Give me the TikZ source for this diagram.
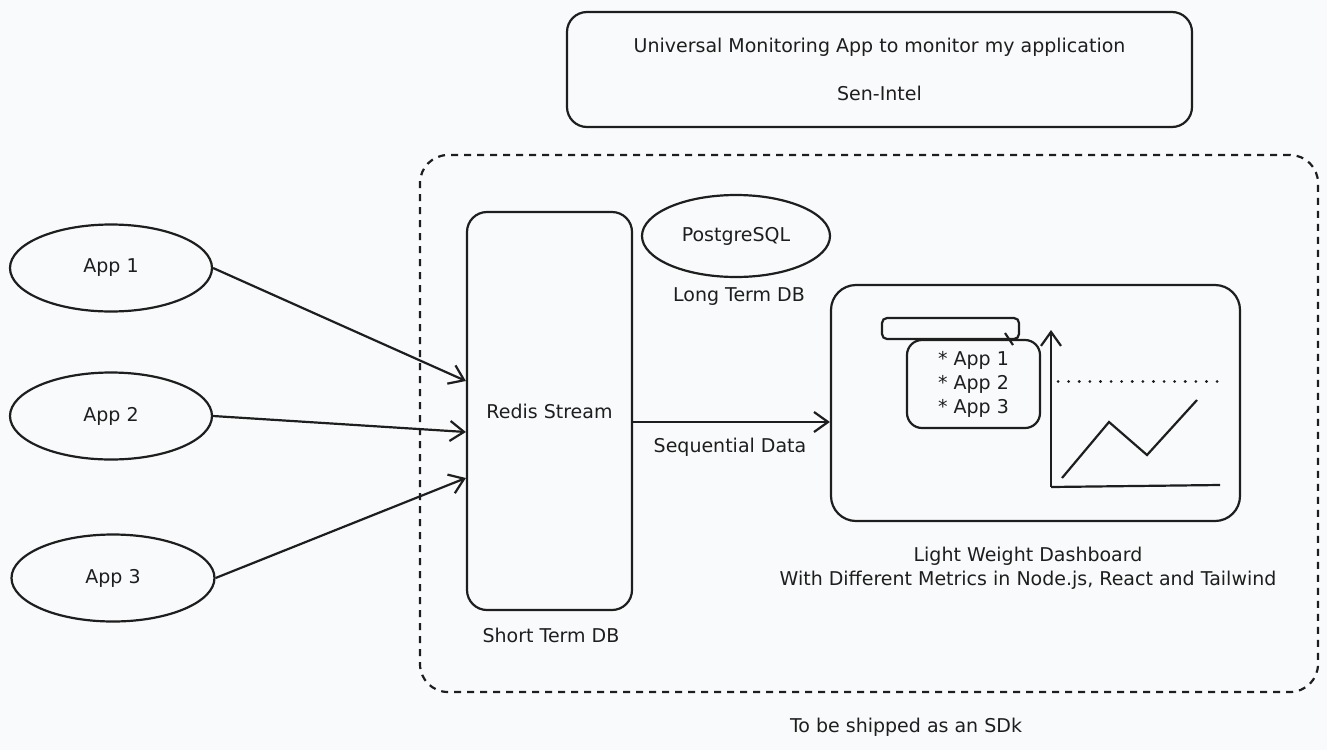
\documentclass[tikz,border=0pt]{standalone}
\usepackage{fontspec}
\setmainfont{DejaVu Sans}
\usepackage{tikz}
\usetikzlibrary{arrows.meta,shapes.geometric}
\usetikzlibrary{positioning}
\definecolor{canvas}{HTML}{F9FAFB}
\definecolor{ink}{HTML}{1E1E1E}

\tikzset{
  box/.style={draw=ink, line width=2.2pt, rounded corners=20pt, inner sep=0pt},
  oval/.style={draw=ink, ellipse, line width=2.2pt, inner sep=0pt},
  arr/.style={draw=ink, line width=2.2pt, -{Straight Barb[length=14pt,width=20pt,line width=2.2pt]}},
  lbl/.style={text=ink, font=\fontsize{19}{22}\selectfont},
}

\begin{document}
\begin{tikzpicture}[x=1pt,y=-1pt]
  \fill[canvas] (0,0) rectangle (1327,750);
  \useasboundingbox (0,0) rectangle (1327,750);

  % title
  \node(title)[box, lbl, minimum width=625pt, minimum height=115pt, align=center] at (879.5,69.5)
    {Universal Monitoring App to monitor my application\\[26pt]Sen-Intel};

  % sdk frame
  \node(sdk)[box, dashed, dash pattern=on 7pt off 6pt, rounded corners=28pt,
    minimum width=898pt, minimum height=537pt] at (869,423.5) {};
  \node[lbl] at (906,727) {To be shipped as an SDk};

  % apps
  \node(app1)[oval, lbl, minimum width=202pt, minimum height=87pt] at (111,268) {App 1};
  \node(app2)[oval, lbl, minimum width=202pt, minimum height=87pt] at (111,416) {App 2};
  \node(app3)[oval, lbl, minimum width=203pt, minimum height=87pt] at (113,578) {App 3};

  % stores
  \node(redis)[box, lbl, minimum width=165pt, minimum height=398pt] at (549.5,411) {Redis Stream};
  \node[lbl] at (551,635) {Short Term DB};
  \node(pg)[oval, lbl, minimum width=188pt, minimum height=82pt] at (736,236) {PostgreSQL};
  \node[lbl] at (739,297) {Long Term DB};

  % dashboard
  \node(dash)[box, rounded corners=25pt, minimum width=409pt, minimum height=236pt] at (1035.5,403) {};
  \node(bar)[box, rounded corners=5pt, minimum width=137pt, minimum height=21pt] at (950.5,328.5) {};
  \node(list)[box, lbl, rounded corners=15pt, minimum width=133pt, minimum height=88pt,
    align=left, font=\fontsize{19}{24}\selectfont] at (973.5,384) {* App 1\\* App 2\\* App 3};
  \draw[ink, line width=2.2pt] (1005,333) -- (1013,345);
  \draw[arr] (1051,487) -- (1051,330);
  \draw[ink, line width=2.2pt] (1051,487) -- (1220,485);
  \draw[ink, line width=3pt, line cap=round, dash pattern=on 0.1pt off 10.5pt] (1058,381) -- (1225,381);
  \draw[ink, line width=2.2pt] (1062,478) -- (1109,422) -- (1147,455) -- (1197,400);
  \node[lbl, align=center, font=\fontsize{19}{24}\selectfont] at (1028,568)
    {Light Weight Dashboard\\With Different Metrics in Node.js, React and Tailwind};

  % connectors
  \draw[arr] (app1.east) -- ([yshift=30pt]redis.west);
  \draw[arr] (app2.east) -- ([yshift=-21pt]redis.west);
  \draw[arr] (app3.east) -- ([yshift=-67pt]redis.west);
  \draw[arr] ([yshift=-11pt]redis.east) -- ([yshift=-11pt]redis.east -| dash.west);
  \node[lbl] at (730,447) {Sequential Data};
\end{tikzpicture}
\end{document}
